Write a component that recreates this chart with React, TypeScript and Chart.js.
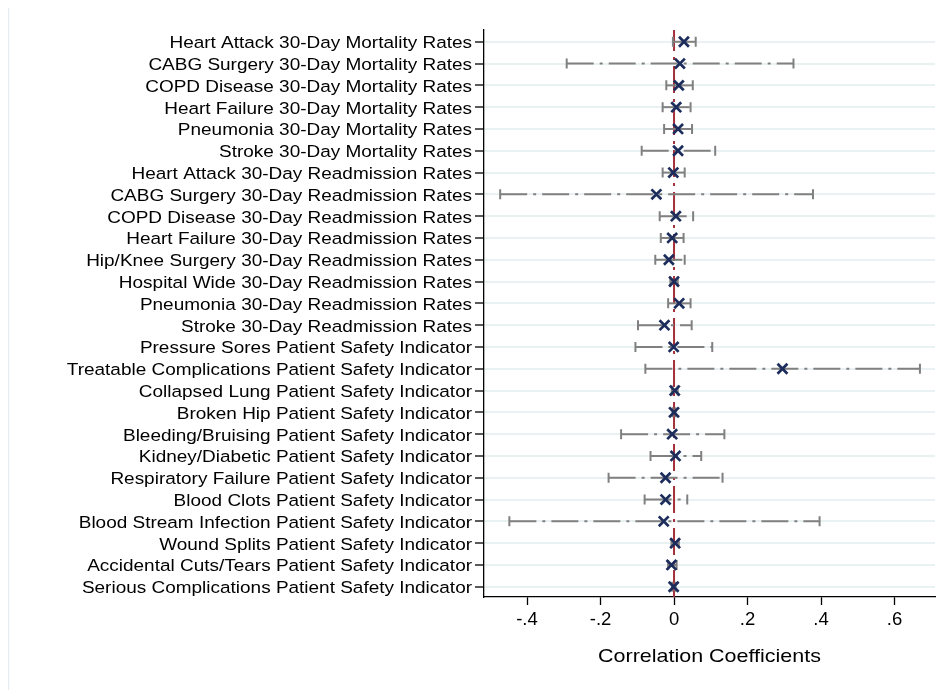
import React, { useEffect, useRef } from "react";
import { Chart, registerables } from "chart.js";

Chart.register(...registerables);

const categories: string[] = [
  "Heart Attack 30-Day Mortality Rates",
  "CABG Surgery 30-Day Mortality Rates",
  "COPD Disease 30-Day Mortality Rates",
  "Heart Failure 30-Day Mortality Rates",
  "Pneumonia 30-Day Mortality Rates",
  "Stroke 30-Day Mortality Rates",
  "Heart Attack 30-Day Readmission Rates",
  "CABG Surgery 30-Day Readmission Rates",
  "COPD Disease 30-Day Readmission Rates",
  "Heart Failure 30-Day Readmission Rates",
  "Hip/Knee Surgery 30-Day Readmission Rates",
  "Hospital Wide 30-Day Readmission Rates",
  "Pneumonia 30-Day Readmission Rates",
  "Stroke 30-Day Readmission Rates",
  "Pressure Sores Patient Safety Indicator",
  "Treatable Complications Patient Safety Indicator",
  "Collapsed Lung Patient Safety Indicator",
  "Broken Hip Patient Safety Indicator",
  "Bleeding/Bruising Patient Safety Indicator",
  "Kidney/Diabetic Patient Safety Indicator",
  "Respiratory Failure Patient Safety Indicator",
  "Blood Clots Patient Safety Indicator",
  "Blood Stream Infection Patient Safety Indicator",
  "Wound Splits Patient Safety Indicator",
  "Accidental Cuts/Tears Patient Safety Indicator",
  "Serious Complications Patient Safety Indicator",
];

const coefficients: number[] = [
  0.027, 0.016, 0.013, 0.006, 0.011, 0.011, -0.002, -0.048, 0.005, -0.005,
  -0.014, 0.0, 0.014, -0.026, -0.001, 0.295, 0.002, 0.0, -0.005, 0.004,
  -0.023, -0.023, -0.028, 0.003, -0.007, -0.001,
];

const lowerCI: number[] = [
  -0.003, -0.292, -0.021, -0.031, -0.027, -0.088, -0.031, -0.473, -0.039, -0.036,
  -0.051, -0.01, -0.016, -0.098, -0.105, -0.078, -0.006, -0.004, -0.144, -0.064,
  -0.178, -0.08, -0.448, -0.007, -0.016, -0.005,
];

const upperCI: number[] = [
  0.059, 0.325, 0.051, 0.045, 0.049, 0.112, 0.029, 0.378, 0.052, 0.026,
  0.029, 0.01, 0.045, 0.048, 0.104, 0.669, 0.01, 0.004, 0.137, 0.074,
  0.132, 0.036, 0.396, 0.013, 0.007, 0.004,
];

const xTicks: number[] = [-0.4, -0.2, 0, 0.2, 0.4, 0.6];
const xTitle = "Correlation Coefficients";

const FONT = "'Liberation Sans', Arial, Helvetica, sans-serif";
const STRETCH = 1.165;

const fmtTick = (v: number): string => {
  if (Math.abs(v) < 1e-9) return "0";
  const s = v.toFixed(1);
  return s.replace("0.", ".");
};

const coefPlugin = {
  id: "coefPlugin",
  beforeDraw(chart: any) {
    const ctx = chart.ctx;
    ctx.save();
    ctx.fillStyle = "#e6ecef";
    ctx.fillRect(0, 0, 1.2, chart.height);
    ctx.restore();
  },
  beforeDatasetsDraw(chart: any) {
    const ctx = chart.ctx;
    const xs = chart.scales.x;
    const ys = chart.scales.y;
    const area = chart.chartArea;
    // zero reference line
    ctx.save();
    ctx.strokeStyle = "#a3303a";
    ctx.lineWidth = 2;
    ctx.setLineDash([27, 6, 3, 6]);
    const x0 = xs.getPixelForValue(0);
    ctx.beginPath();
    ctx.moveTo(x0, area.bottom);
    ctx.lineTo(x0, area.top);
    ctx.stroke();
    ctx.restore();
    // confidence interval bars with caps
    ctx.save();
    ctx.strokeStyle = "#808080";
    ctx.lineWidth = 2;
    for (let i = 0; i < categories.length; i++) {
      const y = ys.getPixelForValue(i + 1);
      const xl = xs.getPixelForValue(lowerCI[i]);
      const xu = xs.getPixelForValue(upperCI[i]);
      ctx.setLineDash([27, 6, 3, 6]);
      ctx.beginPath();
      ctx.moveTo(xl, y);
      ctx.lineTo(xu, y);
      ctx.stroke();
      ctx.setLineDash([]);
      ctx.beginPath();
      ctx.moveTo(xl, y - 5);
      ctx.lineTo(xl, y + 5);
      ctx.moveTo(xu, y - 5);
      ctx.lineTo(xu, y + 5);
      ctx.stroke();
    }
    ctx.restore();
  },
  afterDraw(chart: any) {
    const ctx = chart.ctx;
    const ys = chart.scales.y;
    const area = chart.chartArea;
    ctx.save();
    ctx.fillStyle = "#000";
    ctx.font = `16.3px ${FONT}`;
    ctx.textAlign = "right";
    ctx.textBaseline = "alphabetic";
    const rightX = area.left - 12;
    for (let i = 0; i < categories.length; i++) {
      const y = ys.getPixelForValue(i + 1);
      ctx.save();
      ctx.translate(rightX, y + 6.4);
      ctx.scale(STRETCH, 1);
      ctx.fillText(categories[i], 0, 0);
      ctx.restore();
    }
    ctx.font = `18.6px ${FONT}`;
    ctx.textAlign = "center";
    ctx.save();
    ctx.translate((area.left + area.right) / 2, area.bottom + 64.7);
    ctx.scale(1.155, 1);
    ctx.fillText(xTitle, 0, 0);
    ctx.restore();
    ctx.restore();
  },
};

export default function App() {
  const ref = useRef<HTMLCanvasElement | null>(null);
  useEffect(() => {
    if (!ref.current) return;
    const chart = new Chart(ref.current, {
      type: "scatter",
      data: {
        datasets: [
          {
            data: coefficients.map((v, i) => ({ x: v, y: i + 1 })),
            pointStyle: "crossRot",
            pointRadius: 7,
            pointHoverRadius: 7,
            pointBorderWidth: 2.7,
            borderColor: "#1c2d5c",
            backgroundColor: "#1c2d5c",
            showLine: false,
          },
        ],
      },
      options: {
        responsive: false,
        animation: false,
        devicePixelRatio: 1,
        layout: { autoPadding: false, padding: { top: 22, right: 5, left: 0, bottom: 0 } },
        plugins: { legend: { display: false }, tooltip: { enabled: false } },
        scales: {
          x: {
            type: "linear",
            min: -0.517,
            max: 0.71,
            afterFit: (s: any) => {
              s.height = 93;
              s.paddingLeft = 0;
              s.paddingRight = 0;
            },
            afterBuildTicks: (s: any) => {
              s.ticks = xTicks.map((v) => ({ value: v }));
            },
            ticks: {
              includeBounds: false,
              autoSkip: false,
              maxRotation: 0,
              padding: 4,
              color: "#000",
              font: { family: FONT, size: 18.5 },
              callback: (v: any) => fmtTick(Number(v)),
            },
            grid: {
              drawOnChartArea: false,
              drawTicks: true,
              tickLength: 8,
              tickColor: "#000",
              tickWidth: 1.3,
            },
            border: { display: true, color: "#000", width: 1.3 },
          },
          y: {
            type: "linear",
            reverse: true,
            min: 0.46,
            max: 26.47,
            afterFit: (s: any) => {
              s.width = 476;
              s.paddingTop = 0;
              s.paddingBottom = 0;
            },
            afterBuildTicks: (s: any) => {
              s.ticks = categories.map((_, i) => ({ value: i + 1 }));
            },
            ticks: { display: false, includeBounds: false },
            grid: {
              color: "#e9f1f3",
              lineWidth: 2,
              drawTicks: true,
              tickLength: 9,
              tickColor: "#000",
              tickWidth: 1.3,
            },
            border: { display: true, color: "#000", width: 1.3 },
          },
        },
      },
      plugins: [coefPlugin],
    } as any);
    return () => chart.destroy();
  }, []);
  return (
    <div style={{ width: 932, height: 682, background: "#fff" }}>
      <canvas ref={ref} width={932} height={682} style={{ display: "block" }} />
    </div>
  );
}
